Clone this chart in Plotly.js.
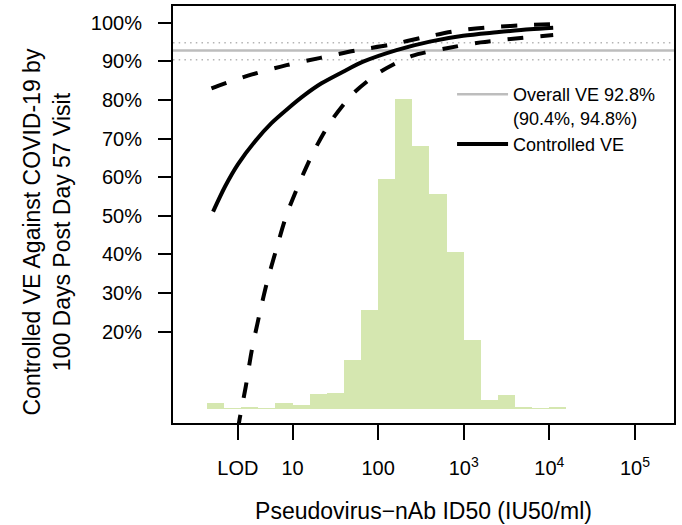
<!DOCTYPE html>
<html>
<head>
<meta charset="utf-8">
<script src="https://cdn.plot.ly/plotly-3.0.1.min.js"></script>
<style>
  html, body { margin: 0; padding: 0; background: #ffffff; }
  #chart { width: 682px; height: 525px; }
</style>
</head>
<body>
<div id="chart"></div>
<script>
// ---------- data ----------
const LOD = 2.3;                       // limit of detection (IU50/ml)
const xTickVals = [LOD, 10, 100, 1000, 10000, 100000];
const xTickText = ["LOD", "10", "100", "10<sup>3</sup>", "10<sup>4</sup>", "10<sup>5</sup>"];
const yTickVals = [20, 30, 40, 50, 60, 70, 80, 90, 100];
const yTickText = ["20%", "30%", "40%", "50%", "60%", "70%", "80%", "90%", "100%"];

// Overall VE and its 95% CI (%)
const overallVE = 92.8;
const overallLo = 90.4;
const overallHi = 94.8;

// Controlled VE curve (log10 titer, VE %)
const veLogX = [0.072, 0.212, 0.364, 0.559, 0.754, 0.948, 1.143, 1.339, 1.591, 1.825, 2.215, 2.604, 2.993, 3.384, 3.773, 4.045];
const veY    = [51.1, 57.6, 63.4, 69.2, 74.0, 77.8, 81.3, 84.3, 87.3, 89.9, 92.9, 95.1, 96.6, 97.5, 98.3, 98.7];

// Upper 95% band
const upLogX = [0.053, 0.138, 0.528, 0.930, 1.327, 1.736, 2.145, 2.534, 2.946, 3.352, 3.761, 4.045];
const upY    = [83.0, 83.7, 86.6, 89.0, 90.9, 92.8, 94.3, 96.2, 98.0, 98.9, 99.4, 99.6];

// Lower 95% band
const loLogX = [0.30, 0.384, 0.454, 0.521, 0.606, 0.699, 0.81, 0.93, 1.08, 1.249, 1.447, 1.71, 2.028, 2.397, 2.803, 3.197, 3.606, 4.045];
const loY    = [-14, -2.4, 5.8, 14.8, 23.7, 32.5, 41.3, 50.2, 58.5, 66.7, 74.4, 81.7, 87.3, 91.4, 93.4, 94.9, 95.9, 96.8];

// Histogram of Day 57 titers (bins of 0.2 log10 starting at 0), percent of participants
const histBinStart = 0;
const histBinWidth = 0.2;
const histPct = [0.41, 0.07, 0.12, 0.05, 0.41, 0.27, 1.02, 1.09, 3.31, 6.73, 15.67, 21.11, 17.91, 14.65, 10.68, 4.71, 0.63, 0.95, 0.14, 0.09, 0.14];

// ---------- layout constants ----------
const xRangeLog = [-0.396, 5.456];
const yRange = [-3.64, 104.32];
const histYRange = [-0.952, 27.41];

const pow10 = a => a.map(v => Math.pow(10, v));
const histCenters = histPct.map((_, i) => histBinStart + histBinWidth * (i + 0.5));
const xSpan = pow10(xRangeLog);

const FONT = "Liberation Sans, Arial, Helvetica, sans-serif";

const traces = [
  {
    type: "bar", x: histCenters, y: histPct, width: histBinWidth,
    xaxis: "x2", yaxis: "y2",
    marker: { color: "#d5e7b0", line: { width: 0 } },
    showlegend: false, hoverinfo: "skip"
  },
  {
    type: "scatter", mode: "lines", x: xSpan, y: [overallHi, overallHi],
    line: { color: "#b4b4b4", width: 1.5, dash: "1.5px,4.2px" },
    showlegend: false, hoverinfo: "skip"
  },
  {
    type: "scatter", mode: "lines", x: xSpan, y: [overallLo, overallLo],
    line: { color: "#b4b4b4", width: 1.5, dash: "1.5px,4.2px" },
    showlegend: false, hoverinfo: "skip"
  },
  {
    type: "scatter", mode: "lines", x: xSpan, y: [overallVE, overallVE],
    name: "Overall VE 92.8%<br>(90.4%, 94.8%)",
    line: { color: "#bdbdbd", width: 2.5 }
  },
  {
    type: "scatter", mode: "lines", x: pow10(veLogX), y: veY,
    name: "Controlled VE",
    line: { color: "#000000", width: 4, shape: "spline", smoothing: 0.8 }
  },
  {
    type: "scatter", mode: "lines", x: pow10(upLogX), y: upY,
    line: { color: "#000000", width: 4, dash: "16px,17px", shape: "spline", smoothing: 0.8 },
    showlegend: false
  },
  {
    type: "scatter", mode: "lines", x: pow10(loLogX), y: loY,
    line: { color: "#000000", width: 4, dash: "16px,17px", shape: "spline", smoothing: 0.8 },
    showlegend: false
  }
];

const layout = {
  width: 682, height: 525,
  margin: { l: 173, r: 8, t: 6, b: 102 },
  paper_bgcolor: "#ffffff", plot_bgcolor: "#ffffff",
  font: { family: FONT, color: "#000000" },
  bargap: 0,
  showlegend: true,
  legend: {
    x: 0.557, y: 0.832, xanchor: "left", yanchor: "top",
    font: { family: FONT, size: 18, color: "#000000" },
    bgcolor: "rgba(0,0,0,0)", borderwidth: 0, valign: "top",
    tracegroupgap: 0, itemwidth: 51
  },
  annotations: [{
    text: "Controlled VE Against COVID-19 by<br>100 Days Post Day 57 Visit",
    xref: "paper", yref: "paper", x: -0.2505, y: 0.458,
    xanchor: "center", yanchor: "middle", textangle: -90, showarrow: false,
    font: { family: FONT, size: 23, color: "#000000" }
  }],
  xaxis: {
    type: "log", range: xRangeLog,
    tickvals: xTickVals, ticktext: xTickText,
    ticks: "outside", ticklen: 15, tickwidth: 2, tickcolor: "#000",
    showline: true, linewidth: 2, linecolor: "#000", mirror: true,
    showgrid: false, zeroline: false,
    tickfont: { family: FONT, size: 20 },
    ticklabelstandoff: 11,
    title: { text: "Pseudovirus\u2212nAb ID50 (IU50/ml)", font: { family: FONT, size: 23 }, standoff: 25 }
  },
  yaxis: {
    range: yRange,
    tickvals: yTickVals, ticktext: yTickText,
    ticks: "outside", ticklen: 13, tickwidth: 2, tickcolor: "#000",
    showline: true, linewidth: 2, linecolor: "#000", mirror: true,
    showgrid: false, zeroline: false,
    tickfont: { family: FONT, size: 20 },
    ticklabelstandoff: 12
  },
  xaxis2: { overlaying: "x", range: xRangeLog, visible: false, showgrid: false, zeroline: false },
  yaxis2: { overlaying: "y", range: histYRange, visible: false, showgrid: false, zeroline: false }
};

Plotly.newPlot("chart", traces, layout, { staticPlot: true, displayModeBar: false });
</script>
</body>
</html>
